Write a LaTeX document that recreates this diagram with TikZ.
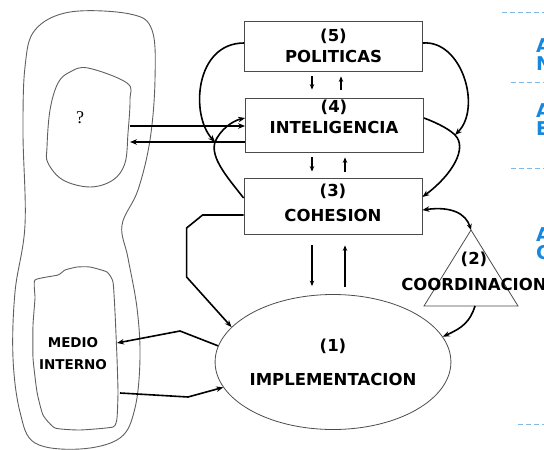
\documentclass[tikz,border=0pt]{standalone}
\usepackage{fontspec}
\newfontfamily\vsmfont{DejaVu Sans}
\newfontfamily\qmarkfont{Liberation Serif}
\definecolor{outline}{RGB}{75, 75, 75}
\definecolor{envgray}{RGB}{95, 95, 95}
\definecolor{legblue}{RGB}{25, 135, 220}
\definecolor{dashblue}{RGB}{130, 185, 230}
\usetikzlibrary{shapes.geometric, arrows.meta, calc}

\begin{document}
\begin{tikzpicture}[x=1pt, y=-1pt,
  sysbox/.style={draw=outline, line width=0.8pt, minimum width=178pt, inner sep=0pt, align=center, font=\vsmfont\bfseries\fontsize{16.5}{21}\selectfont},
  systxt/.style={inner sep=0pt, align=center, font=\vsmfont\bfseries\fontsize{16.5}{21}\selectfont},
  link/.style={-{Stealth[length=7pt, width=5.5pt]}, line width=1.6pt},
  tick/.style={-{Stealth[length=5.5pt, width=4.5pt]}, line width=1.2pt},
  blob/.style={draw=envgray, line width=0.9pt},
  legtxt/.style={anchor=north west, inner sep=0pt, align=left, text=legblue, font=\vsmfont\bfseries\fontsize{19}{18}\selectfont},
  legdash/.style={draw=dashblue, line width=1pt, dash pattern=on 5pt off 3pt}]
  \useasboundingbox (0,0) rectangle (544,450);

  % Environment
  \draw[blob] plot[smooth cycle, tension=0.6] coordinates {(70,12) (130,14) (152,30) (155,80) (150,140) (138,190) (122,225) (128,258) (137,308) (140,358) (135,408) (120,438) (80,449) (35,443) (20,412) (13,358) (15,292) (25,225) (23,133) (25,67) (35,30)};
  \draw[blob] plot[smooth cycle, tension=0.6] coordinates {(88,68) (127,83) (130,100) (128,133) (125,163) (113,180) (90,187) (63,180) (48,163) (47,147) (50,110) (58,83) (70,72)};
  \draw[blob] plot[smooth cycle, tension=0.3] coordinates {(35,280) (58,275) (65,270) (77,267) (90,267) (107,272) (113,282) (115,312) (117,358) (118,392) (117,418) (113,427) (80,430) (55,428) (43,415) (37,392) (33,358) (33,325) (35,298)};
  \node[font=\qmarkfont\fontsize{18}{20}\selectfont] (unknown) at (80,118) {?};
  \node[align=center, inner sep=0pt, font=\vsmfont\bfseries\fontsize{13.5}{22}\selectfont] (medio) at (73,354) {MEDIO\\INTERNO};
  \coordinate (envq out) at (130,126);
  \coordinate (envq in) at (130,142);
  \coordinate (medio in) at (117,343);
  \coordinate (medio out) at (120,393);

  % Systems 5, 4, 3
  \node[sysbox, minimum height=50pt] (politicas) at (333.5,46) {(5)\\POLITICAS};
  \node[sysbox, minimum height=54pt] (inteligencia) at (334.5,125) {};
  \node[systxt] (inteligencia txt) at (334,117) {(4)\\INTELIGENCIA};
  \node[sysbox, minimum height=56pt] (cohesion) at (333,206) {};
  \node[systxt] (cohesion txt) at (333,203) {(3)\\[4pt]COHESION};

  % System 1
  \node[ellipse, draw=outline, line width=0.8pt, minimum width=224pt, minimum height=135pt, inner sep=0pt, align=center, font=\vsmfont\bfseries\fontsize{16.5}{21}\selectfont] (implementacion) at (333,362) {(1)\\[13pt]IMPLEMENTACION};

  % System 2
  \coordinate (coord apex) at (471,230);
  \coordinate (coord right) at (518,306);
  \coordinate (coord left) at (424,306);
  \coordinate (coord base) at (475,306);
  \draw[draw=outline, line width=0.8pt] (coord apex) -- (coord right) -- (coord left) -- cycle;
  \node[systxt] (coordinacion) at (474,271) {(2)\\[5pt]COORDINACION};

  % Short vertical links
  \coordinate (col down) at (312,0);
  \coordinate (col up) at (341,0);
  \coordinate (col up2) at (345,0);
  \draw[tick, shorten <=5pt, shorten >=8pt] (politicas.south -| col down) -- (inteligencia.north -| col down);
  \draw[tick, shorten <=8pt, shorten >=5pt] (inteligencia.north -| col up) -- (politicas.south -| col up);
  \draw[tick, shorten <=5pt, shorten >=6pt] (inteligencia.south -| col down) -- (cohesion.north -| col down);
  \draw[tick, shorten <=6pt, shorten >=5pt] (cohesion.north -| col up2) -- (inteligencia.south -| col up2);
  \draw[tick, line width=1.4pt, shorten <=11pt, shorten >=8pt] (cohesion.south -| col down) -- (implementacion.north -| col down);
  \draw[tick, line width=1.4pt, shorten <=7pt, shorten >=11pt] (implementacion.north -| col up2) -- (cohesion.south -| col up2);

  % Environment <-> intelligence
  \draw[link] (envq out) -- (envq out -| inteligencia.west);
  \draw[link] (envq in -| inteligencia.west) -- (envq in);

  % Homeostat 3-4 and monitoring by 5
  \coordinate (cross left) at (215,142);
  \coordinate (cross right) at (455,135);
  \draw[link] ([yshift=8pt]cohesion.west) .. controls (228,178) and (210,158) .. (cross left) .. controls (220,130) and (232,121) .. ([yshift=7pt]inteligencia.west);
  \draw[link] ([yshift=3pt]politicas.west) .. controls (195,43) and (190,115) .. (cross left);
  \draw[link] ([yshift=7pt]inteligencia.east) .. controls (440,124) and (450,130) .. (cross right) .. controls (468,148) and (452,175) .. ([yshift=9pt]cohesion.east);
  \draw[link] ([yshift=3pt]politicas.east) .. controls (462,40) and (482,108) .. (cross right);

  % 3 -> 1 and 2 <-> 3, 2 -> 1
  \draw[link] ([yshift=-9pt]cohesion.west) -- ++(-41,0) -- ++(-16,13) -- ++(0,49) -- (implementacion.161);
  \draw[{Stealth[length=7pt, width=5.5pt]}-{Stealth[length=6pt, width=5pt]}, line width=1.6pt] ([yshift=-4pt]cohesion.east) .. controls (452,206) and (466,214) .. (coord apex);
  \draw[link] (coord base) .. controls (470,322) and (462,328) .. (implementacion.13);

  % 1 <-> internal medium
  \draw[link] (implementacion.172) -- (180,331) -- (medio in);
  \draw[link] (medio out) -- (188,397) -- (implementacion.193);

  % Right legend (cut off)
  \draw[legdash] (502,12) -- (544,12);
  \draw[legdash] (511,82) -- (544,82);
  \draw[legdash] (511,168) -- (544,168);
  \draw[legdash] (518,424) -- (544,424);
  \node[legtxt] (leg one) at (536,38) {A\\N};
  \node[legtxt] (leg two) at (536,103) {A\\E};
  \node[legtxt] (leg three) at (536,227) {A\\C};
\end{tikzpicture}
\end{document}
